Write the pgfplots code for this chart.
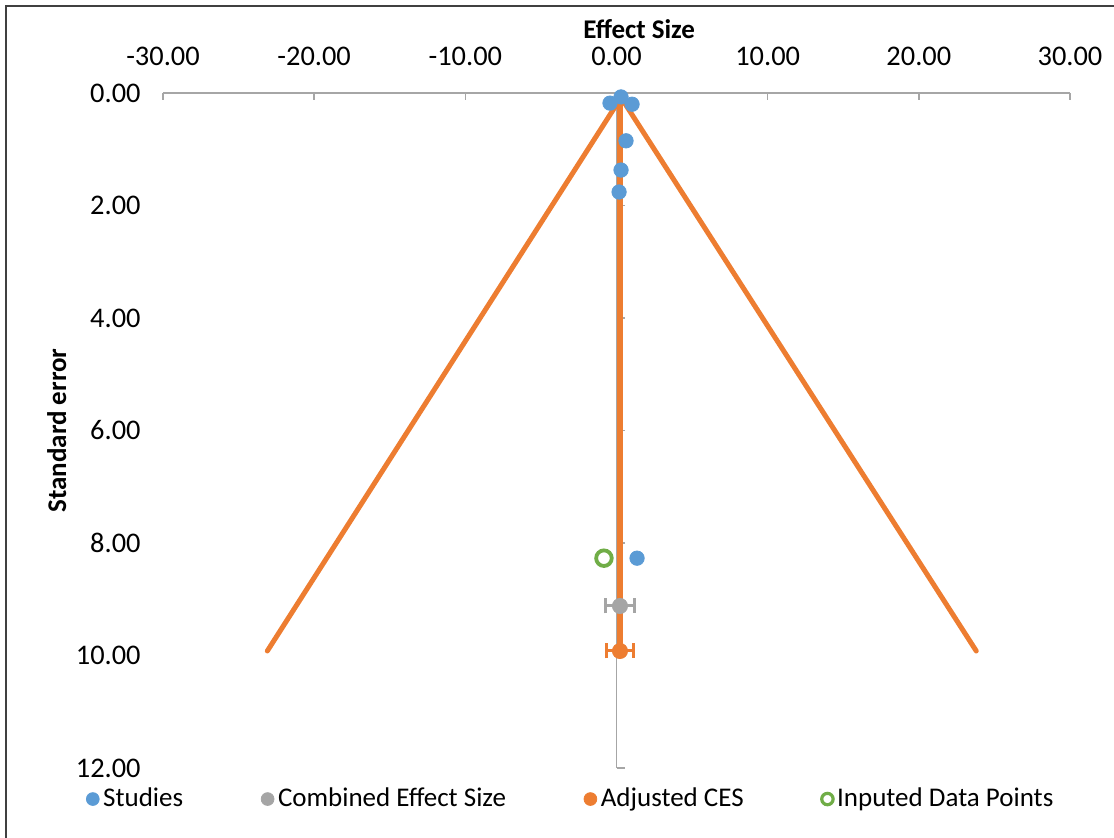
\documentclass[border=0pt]{standalone}
\usepackage{fontspec}
\setmainfont{Carlito}
\usepackage{pgfplots}
\pgfplotsset{compat=1.18}
\definecolor{cBlue}{HTML}{5B9BD5}
\definecolor{cOrange}{HTML}{ED7D31}
\definecolor{cGray}{HTML}{A5A5A5}
\definecolor{cGreen}{HTML}{70AD47}
\definecolor{axgray}{HTML}{A6A6A6}
\begin{document}
\fontsize{13.5pt}{16pt}\selectfont
\begin{tikzpicture}
\useasboundingbox (0,0) rectangle (557pt,419pt);
\draw[black!75, line width=0.9pt] (3pt,-10pt) -- (3pt,416pt) -- (570pt,416pt);
\begin{axis}[
    at={(81.5pt,35pt)}, anchor=south west,
    scale only axis, width=453.5pt, height=337.5pt,
    xmin=-30, xmax=30, ymin=0, ymax=12,
    y dir=reverse,
    xtick={-30,-20,...,30}, ytick={0,2,...,12},
    xticklabel pos=upper,
    axis line style={draw=none},
    major tick length=0pt,
    /pgf/number format/.cd, fixed, fixed zerofill, precision=2, assume math mode=true,
    /pgfplots/.cd,
    ticklabel style={font=\fontsize{14.2pt}{17pt}\selectfont},
    yticklabel style={xshift=-6.5pt},
    xticklabel style={yshift=9pt},
    every axis x label/.style={at={(axis description cs:0.525,1.095)}, anchor=center},
    every axis y label/.style={at={(axis description cs:-0.117,0.5)}, rotate=90, anchor=center},
    xlabel={\bfseries Effect Size},
    ylabel={\bfseries Standard error},
    legend columns=4,
    legend cell align=left,
    legend image code/.code={\draw[#1] plot coordinates {(0pt,0pt)};},
    legend style={at={(axis description cs:-0.0915,-0.046)}, anchor=west,
        draw=none, fill=none, font=\fontsize{13.5pt}{16pt}\selectfont,
        /tikz/every even column/.append style={column sep=37pt}},
    clip=false,
]
% axis lines
\draw[axgray, line width=0.8pt] (axis cs:-30,0) -- (axis cs:30,0);
\draw[axgray, line width=0.8pt] (axis cs:0,0) -- (axis cs:0,12);
\pgfplotsinvokeforeach{-30,-20,-10,0,10,20,30}{
  \draw[axgray, line width=0.8pt] (axis cs:#1,0) -- ++(0pt,-3.5pt);
}
\pgfplotsinvokeforeach{0,2,4,6,8,10,12}{
  \draw[axgray, line width=0.8pt] (axis cs:0,#1) -- ++(4pt,0pt);
}
\addlegendimage{only marks, mark=*, mark size=3.2pt, draw=cBlue, fill=cBlue}
\addlegendentry{Studies}
\addlegendimage{only marks, mark=*, mark size=3.2pt, draw=cGray, fill=cGray}
\addlegendentry{Combined Effect Size}
\addlegendimage{only marks, mark=*, mark size=3.2pt, draw=cOrange, fill=cOrange}
\addlegendentry{Adjusted CES}
\addlegendimage{only marks, mark=*, mark size=2.85pt, draw=cGreen, fill=white, mark options={line width=1.6pt}}
\addlegendentry{Inputed Data Points}
% funnel
\addplot[cOrange, line width=2.5pt, line cap=round, line join=round, forget plot]
  coordinates {(-23.1,9.92) (0.3,0.08) (23.8,9.92)};
\addplot[cOrange, line width=2.8pt, forget plot]
  coordinates {(0.23,0.08) (0.23,9.92)};
% studies
\addplot[only marks, mark=*, mark size=3.6pt, draw=cBlue, fill=cBlue, forget plot]
  coordinates {(-0.43,0.18) (0.30,0.07) (1.03,0.20) (0.63,0.85) (0.30,1.37) (0.17,1.76) (1.36,8.27)};
% imputed
\addplot[only marks, mark=*, mark size=3.9pt, draw=cGreen, fill=white, mark options={line width=1.9pt}, forget plot]
  coordinates {(-0.83,8.27)};
% combined effect size
\addplot[only marks, mark=*, mark size=3.8pt, draw=cGray, fill=cGray, forget plot,
  error bars/.cd, x dir=both, x explicit, error mark=|,
  error bar style={line width=1.5pt, cGray},
  error mark options={line width=1.5pt, mark size=3.75pt, cGray}]
  coordinates {(0.23,9.12) +- (0.93,0)};
% adjusted CES
\addplot[only marks, mark=*, mark size=3.8pt, draw=cOrange, fill=cOrange, forget plot,
  error bars/.cd, x dir=both, x explicit, error mark=|,
  error bar style={line width=1.5pt, cOrange},
  error mark options={line width=1.5pt, mark size=3.75pt, cOrange}]
  coordinates {(0.23,9.92) +- (0.9,0)};
\end{axis}
\end{tikzpicture}
\end{document}
